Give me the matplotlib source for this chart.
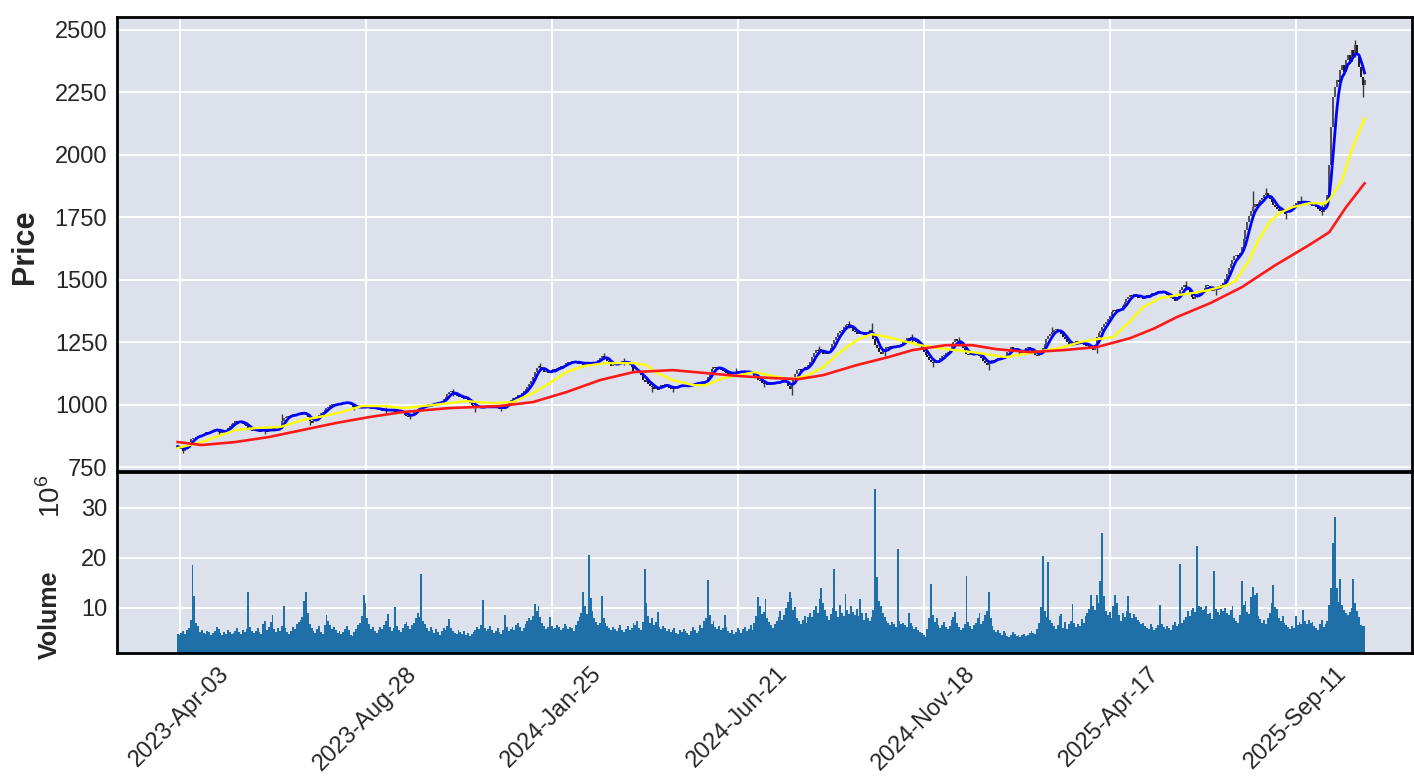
import numpy as np
import pandas as pd
import matplotlib
matplotlib.use('Agg')
import matplotlib.pyplot as plt

plt.rcParams['font.family'] = ['Liberation Sans', 'DejaVu Sans']
plt.rcParams['mathtext.fontset'] = 'custom'
plt.rcParams['mathtext.rm'] = 'Liberation Sans'

# x ticks (bar index -> date label)
tick_pos = [1, 101, 201, 301, 401, 501, 601]
tick_labels = ['2023-Apr-03', '2023-Aug-28', '2024-Jan-25', '2024-Jun-21',
               '2024-Nov-18', '2025-Apr-17', '2025-Sep-11']

# daily closes
close = [
    832, 828, 822, 816, 824, 838, 850, 862, 868, 866,
    872, 876, 880, 878, 884, 890, 886, 892, 896, 900,
    904, 898, 892, 888, 894, 890, 900, 908, 916, 922,
    928, 934, 930, 936, 928, 924, 920, 914, 906, 898,
    896, 902, 894, 898, 890, 900, 904, 896, 892, 900,
    898, 906, 894, 898, 902, 910, 935, 948, 952, 956,
    950, 958, 962, 958, 964, 968, 962, 970, 964, 958,
    950, 936, 928, 934, 942, 952, 960, 966, 972, 980,
    986, 992, 998, 1002, 996, 1004, 1000, 1008, 1004, 1010,
    1006, 1012, 1004, 998, 992, 988, 990, 986, 994, 988,
    992, 986, 994, 988, 984, 990, 982, 986, 978, 982,
    976, 980, 974, 978, 984, 976, 980, 972, 976, 970,
    974, 966, 960, 956, 950, 958, 962, 970, 978, 984,
    988, 992, 996, 990, 998, 1002, 996, 1004, 1008, 1002,
    1010, 1006, 1014, 1022, 1030, 1042, 1050, 1056, 1044, 1040,
    1034, 1030, 1036, 1028, 1024, 1028, 1016, 1008, 1000, 994,
    990, 986, 992, 986, 994, 988, 996, 990, 986, 994,
    990, 996, 988, 982, 990, 984, 992, 1004, 1014, 1020,
    1026, 1024, 1032, 1040, 1036, 1046, 1054, 1062, 1070, 1084,
    1096, 1112, 1130, 1148, 1156, 1150, 1138, 1130, 1134, 1126,
    1130, 1138, 1142, 1136, 1146, 1150, 1156, 1152, 1160, 1166,
    1172, 1168, 1174, 1168, 1172, 1164, 1170, 1166, 1160, 1168,
    1164, 1170, 1162, 1168, 1164, 1170, 1178, 1188, 1196, 1192,
    1184, 1174, 1166, 1156, 1160, 1166, 1160, 1170, 1166, 1174,
    1168, 1172, 1166, 1160, 1150, 1136, 1128, 1134, 1126, 1118,
    1100, 1092, 1098, 1084, 1076, 1070, 1062, 1068, 1060, 1072,
    1080, 1076, 1082, 1074, 1068, 1062, 1066, 1070, 1076, 1072,
    1080, 1078, 1072, 1076, 1070, 1078, 1084, 1080, 1088, 1084,
    1090, 1086, 1092, 1088, 1096, 1110, 1128, 1142, 1150, 1146,
    1152, 1144, 1140, 1136, 1132, 1126, 1122, 1128, 1124, 1130,
    1126, 1134, 1130, 1136, 1128, 1132, 1126, 1134, 1128, 1124,
    1116, 1108, 1100, 1094, 1088, 1082, 1086, 1080, 1084, 1090,
    1084, 1088, 1092, 1086, 1094, 1100, 1096, 1090, 1074, 1062,
    1080, 1104, 1124, 1138, 1142, 1136, 1144, 1150, 1146, 1158,
    1172, 1190, 1206, 1220, 1214, 1222, 1212, 1204, 1210, 1202,
    1214, 1228, 1244, 1260, 1272, 1286, 1294, 1300, 1310, 1318,
    1324, 1316, 1306, 1296, 1290, 1284, 1290, 1282, 1288, 1280,
    1286, 1290, 1300, 1284, 1262, 1240, 1226, 1212, 1204, 1214,
    1222, 1230, 1226, 1234, 1228, 1236, 1230, 1238, 1234, 1244,
    1252, 1260, 1268, 1262, 1270, 1262, 1256, 1250, 1244, 1236,
    1226, 1212, 1200, 1190, 1180, 1172, 1166, 1172, 1168, 1180,
    1188, 1194, 1200, 1206, 1212, 1220, 1236, 1250, 1262, 1256,
    1250, 1240, 1226, 1214, 1204, 1198, 1204, 1198, 1206, 1210,
    1202, 1196, 1186, 1176, 1166, 1160, 1168, 1174, 1180, 1176,
    1184, 1188, 1182, 1190, 1186, 1196, 1210, 1222, 1230, 1224,
    1218, 1212, 1216, 1208, 1214, 1220, 1226, 1230, 1222, 1216,
    1206, 1200, 1196, 1204, 1212, 1226, 1244, 1262, 1274, 1282,
    1290, 1298, 1304, 1296, 1290, 1282, 1272, 1262, 1250, 1240,
    1236, 1242, 1248, 1254, 1250, 1244, 1250, 1240, 1236, 1244,
    1232, 1226, 1218, 1240, 1270, 1288, 1296, 1310, 1322, 1330,
    1342, 1356, 1370, 1380, 1374, 1382, 1376, 1384, 1396, 1410,
    1424, 1432, 1440, 1436, 1442, 1434, 1428, 1436, 1430, 1424,
    1432, 1438, 1434, 1442, 1448, 1444, 1452, 1456, 1450, 1446,
    1452, 1444, 1440, 1432, 1428, 1422, 1416, 1424, 1440, 1458,
    1472, 1480, 1470, 1458, 1442, 1430, 1422, 1432, 1444, 1452,
    1448, 1456, 1468, 1480, 1474, 1462, 1456, 1462, 1470, 1476,
    1470, 1478, 1486, 1504, 1524, 1546, 1562, 1578, 1594, 1600,
    1592, 1606, 1632, 1664, 1700, 1730, 1754, 1776, 1790, 1802,
    1796, 1810, 1818, 1826, 1840, 1848, 1836, 1822, 1810, 1798,
    1790, 1782, 1776, 1784, 1772, 1764, 1770, 1778, 1786, 1792,
    1798, 1806, 1814, 1808, 1816, 1810, 1804, 1812, 1806, 1800,
    1794, 1802, 1792, 1784, 1776, 1770, 1790, 1806, 1840, 1960,
    2110, 2230, 2270, 2300, 2290, 2340, 2360, 2330, 2380, 2400,
    2370, 2420, 2390, 2440, 2400, 2350, 2310, 2280, 2300,
]

# daily volume, millions
volume = [
    4.8, 4.6, 5.0, 5.4, 4.9, 5.6, 6.0, 7.6, 18.6, 12.4,
    7.0, 6.5, 5.2, 5.6, 5.0, 4.8, 5.4, 5.2, 4.6, 5.0,
    5.5, 6.3, 5.8, 5.1, 4.7, 5.3, 4.9, 5.6, 5.2, 4.8,
    5.0, 5.4, 6.1, 5.3, 4.9, 5.7, 5.2, 5.8, 13.2, 6.2,
    5.5, 5.0, 5.4, 6.0, 5.2, 4.8, 6.8, 7.4, 5.6, 6.2,
    7.2, 8.6, 5.8, 5.2, 6.0, 5.4, 6.4, 10.4, 6.0, 5.2,
    4.8, 5.5, 6.2, 5.9, 6.8, 7.2, 7.6, 8.2, 11.5, 13.2,
    9.0, 6.8, 6.0, 5.4, 5.0, 5.8, 6.4, 5.2, 4.9, 6.6,
    8.6, 7.4, 6.6, 5.8, 6.2, 5.6, 5.0, 5.4, 4.8, 5.2,
    5.8, 6.4, 5.6, 4.7, 4.5, 5.2, 5.9, 6.6, 7.0, 8.4,
    12.6, 11.0, 8.0, 6.8, 5.8, 6.2, 5.4, 5.0, 5.6, 6.3,
    5.8, 6.6, 7.4, 8.8, 6.2, 5.4, 6.0, 10.2, 6.4, 5.6,
    5.2, 6.0, 6.8, 7.2, 6.4, 5.8, 6.6, 7.0, 8.0, 9.0,
    8.2, 16.8, 7.4, 6.8, 6.0, 5.4, 6.2, 5.6, 5.0, 5.8,
    5.2, 4.6, 5.4, 6.0, 5.6, 6.4, 7.8, 6.0, 5.4, 5.0,
    4.8, 5.6, 5.2, 4.9, 5.4, 4.6, 5.0, 4.4, 4.8, 5.2,
    5.6, 6.2, 5.8, 6.6, 11.6, 6.0, 5.4, 5.8, 6.4, 5.6,
    5.0, 5.4, 6.0, 5.2, 4.8, 5.6, 8.6, 6.2, 5.4, 5.8,
    6.2, 5.6, 6.6, 7.0, 6.2, 5.4, 6.0, 6.8, 7.4, 8.0,
    7.6, 8.4, 10.8, 9.5, 10.5, 8.2, 7.0, 6.4, 5.8, 6.2,
    8.2, 6.4, 5.8, 6.0, 6.6, 6.2, 5.6, 6.0, 6.8, 6.4,
    5.8, 6.2, 6.0, 5.4, 6.6, 7.4, 8.2, 9.0, 13.2, 10.4,
    8.8, 20.6, 12.0, 9.5, 8.0, 7.2, 6.6, 7.0, 12.4, 8.0,
    7.0, 6.4, 6.0, 5.6, 6.2, 5.8, 5.4, 6.0, 6.6, 5.6,
    5.2, 5.8, 6.4, 5.6, 6.0, 7.0, 6.6, 7.4, 6.0, 5.6,
    7.2, 17.8, 11.0, 8.4, 7.0, 8.0, 6.6, 7.2, 9.2, 6.2,
    5.8, 6.4, 6.0, 5.4, 5.8, 5.2, 5.6, 6.0, 5.0, 4.8,
    5.6, 5.2, 5.8, 5.4, 5.0, 4.6, 5.4, 6.2, 5.6, 5.0,
    5.4, 6.6, 6.0, 7.4, 8.0, 15.6, 8.6, 6.8, 7.4, 6.2,
    5.8, 6.4, 5.6, 6.0, 8.6, 6.2, 5.4, 5.0, 5.6, 4.8,
    5.2, 6.0, 5.6, 5.0, 5.8, 6.2, 5.4, 5.8, 6.6, 5.6,
    7.0, 8.4, 12.2, 10.4, 8.8, 9.2, 11.8, 8.0, 7.2, 6.6,
    6.0, 6.8, 7.4, 8.2, 9.4, 7.6, 8.6, 10.0, 11.2, 13.2,
    12.0, 9.6, 10.2, 8.0, 7.4, 6.8, 7.6, 8.4, 7.0, 8.2,
    9.0, 8.2, 9.6, 10.4, 9.0, 11.8, 14.0, 11.0, 9.6, 8.4,
    7.6, 8.8, 10.0, 17.8, 9.4, 8.2, 10.6, 9.0, 8.4, 12.8,
    9.6, 8.8, 10.4, 9.2, 8.6, 9.8, 8.4, 11.8, 9.0, 7.6,
    9.0, 8.0, 7.4, 8.2, 9.6, 33.8, 16.2, 11.4, 10.5, 9.0,
    8.2, 7.4, 7.0, 6.6, 7.2, 6.8, 6.2, 21.8, 7.4, 6.8,
    7.0, 6.6, 6.2, 9.0, 7.0, 6.4, 5.8, 6.2, 5.6, 5.2,
    5.0, 4.6, 4.2, 5.8, 8.0, 14.8, 8.6, 7.2, 8.0, 6.6,
    6.0, 6.6, 7.2, 6.2, 5.8, 6.4, 7.6, 8.2, 9.2, 7.0,
    6.2, 5.6, 6.0, 6.8, 16.4, 7.2, 6.4, 5.8, 6.6, 7.0,
    8.0, 9.0, 6.8, 7.4, 8.6, 9.4, 13.2, 8.0, 6.4, 5.6,
    5.2, 5.6, 5.0, 4.6, 5.4, 5.0, 4.4, 4.2, 4.6, 5.2,
    4.8, 4.4, 4.6, 4.2, 4.6, 4.8, 4.4, 4.6, 5.0, 5.4,
    5.0, 4.8, 5.8, 7.0, 10.2, 20.4, 9.5, 8.2, 19.2, 7.6,
    7.0, 6.4, 5.8, 6.6, 8.4, 8.8, 6.0, 7.2, 5.8, 6.8,
    7.4, 10.8, 7.0, 6.2, 6.8, 6.4, 7.8, 7.0, 8.4, 9.0,
    9.8, 12.6, 10.4, 9.6, 12.6, 11.0, 15.4, 25.0, 12.4, 9.4,
    8.6, 9.2, 8.0, 10.4, 12.6, 11.0, 8.6, 7.4, 9.0, 8.2,
    9.4, 12.4, 9.0, 8.0, 8.8, 8.2, 7.6, 7.2, 6.8, 7.0,
    6.4, 6.0, 5.8, 6.8, 6.2, 5.6, 6.0, 6.6, 10.6, 6.8,
    6.2, 5.8, 6.4, 6.0, 5.6, 6.6, 7.2, 6.4, 6.8, 18.8,
    7.0, 7.6, 8.2, 9.5, 8.4, 9.6, 10.0, 9.2, 22.4, 10.4,
    10.2, 9.6, 9.8, 10.5, 8.8, 9.0, 7.8, 17.4, 9.8, 9.2,
    8.6, 9.8, 9.4, 10.0, 9.0, 8.6, 9.6, 10.5, 8.0, 7.4,
    7.0, 8.6, 15.4, 10.6, 11.4, 9.2, 8.8, 12.2, 14.2, 12.6,
    13.0, 8.4, 7.8, 7.0, 7.6, 6.8, 8.0, 9.0, 11.0, 14.6,
    10.2, 9.8, 8.0, 7.4, 8.4, 7.0, 6.6, 6.2, 5.8, 6.4,
    6.0, 8.4, 6.6, 7.2, 6.8, 9.6, 7.4, 6.8, 7.6, 7.0,
    7.2, 6.4, 6.0, 5.6, 6.8, 7.6, 6.2, 6.8, 7.4, 10.6,
    14.0, 23.0, 28.2, 14.0, 11.2, 15.8, 10.6, 9.6, 9.0, 8.6,
    9.2, 10.0, 15.8, 11.0, 9.4, 8.2, 6.6, 6.5, 6.4,
]

# long wicks that stand out from the candle band
wick_idx = [3, 22, 47, 56, 71, 95, 112, 125, 148, 160, 174, 195, 229, 240,
            255, 266, 300, 315, 330, 345, 361, 373, 380, 395, 406, 420, 436,
            452, 470, 494, 508, 542, 558, 578, 585, 596, 604, 615, 633, 637]
wick_lo = [808, 878, 884, 905, 920, 978, 962, 944, 1036, 972, 975, 1138,
           1182, 1158, 1050, 1052, 1118, 1070, 1038, 1204, 1306, 1280, 1195,
           1252, 1150, 1238, 1140, 1198, 1280, 1205, 1380, 1460, 1440, 1750,
           1830, 1745, 1800, 1760, 2390, 2230]
wick_hi = [830, 900, 906, 962, 952, 998, 990, 962, 1062, 995, 998, 1168,
           1208, 1186, 1080, 1074, 1146, 1092, 1090, 1234, 1336, 1326, 1222,
           1282, 1176, 1270, 1180, 1222, 1312, 1240, 1404, 1495, 1472, 1856,
           1868, 1782, 1836, 1800, 2458, 2310]

# slower moving averages
yellow_idx = [0, 13, 31, 42, 55, 67, 76, 88, 99, 112, 121, 137, 155, 169, 180,
              191, 200, 209, 218, 230, 245, 252, 257, 266, 277, 284, 293, 302,
              310, 320, 329, 338, 347, 356, 365, 373, 382, 388, 399, 413, 427,
              445, 458, 476, 485, 494, 503, 512, 519, 528, 537, 545, 554, 564,
              569, 576, 581, 587, 592, 599, 608, 617, 620, 626, 631, 638]
yellow_val = [826, 850, 898, 906, 910, 938, 950, 970, 994, 994, 986, 998, 1014,
              1006, 1010, 1046, 1086, 1130, 1154, 1166, 1166, 1158, 1130, 1098,
              1078, 1078, 1106, 1118, 1130, 1114, 1102, 1114, 1150, 1210, 1258,
              1282, 1270, 1258, 1238, 1222, 1210, 1190, 1206, 1230, 1250, 1262,
              1270, 1334, 1390, 1426, 1438, 1446, 1458, 1478, 1498, 1578, 1658,
              1730, 1766, 1790, 1806, 1806, 1830, 1898, 2018, 2146]

red_idx = [0, 13, 31, 49, 67, 85, 103, 121, 146, 173, 191, 209, 227, 245, 266,
           284, 302, 320, 334, 347, 365, 382, 395, 413, 427, 440, 458, 476, 494,
           512, 525, 537, 555, 572, 590, 608, 619, 628, 638]
red_val = [850, 838, 850, 870, 898, 926, 950, 970, 986, 994, 1010, 1050, 1098,
           1130, 1138, 1126, 1114, 1106, 1102, 1118, 1158, 1190, 1218, 1238,
           1238, 1222, 1210, 1218, 1230, 1266, 1305, 1350, 1406, 1470, 1558,
           1638, 1690, 1790, 1886]

bg = '#dce1ec'

fig = plt.figure(figsize=(14.14, 7.83), dpi=100)
ax = fig.add_axes([117 / 1414, 1 - 471 / 783, 1295 / 1414, 454 / 783])
axv = fig.add_axes([117 / 1414, 1 - 653 / 783, 1295 / 1414, 181 / 783], sharex=ax)

for a in (ax, axv):
    a.set_facecolor(bg)
    a.grid(True, color='white', lw=1.3)
    a.set_axisbelow(True)
    for s in a.spines.values():
        s.set_color('black')
        s.set_linewidth(2)
    a.tick_params(length=0, labelsize=17, labelcolor='#262626', pad=7)

x = np.arange(len(close))
c = np.array(close, dtype=float)
o = np.r_[c[0], c[:-1]]
up = c >= o
ax.vlines(wick_idx, wick_lo, wick_hi, color='#3a3a3a', lw=1.0)
ax.vlines(x[up], o[up], c[up], color='#505050', lw=1.4)
ax.vlines(x[~up], c[~up], o[~up], color='#1a1a1a', lw=1.4)

blue = pd.Series(close).rolling(5, min_periods=1).mean()
ax.plot(x, blue, color='#0000ff', lw=2.0)
ax.plot(yellow_idx, yellow_val, color='#ffff00', lw=1.7)
ax.plot(red_idx, red_val, color='#ff1a1a', lw=1.9)

ax.set_ylim(734, 2552)
ax.set_yticks([750, 1000, 1250, 1500, 1750, 2000, 2250, 2500])
ax.set_xlim(-32.6, 663.5)
ax.tick_params(labelbottom=False)

axv.bar(np.arange(len(volume)), volume, width=1.0, color='#1f6fa8', lw=0)
axv.set_ylim(1.0, 37.2)
axv.set_yticks([10, 20, 30])
axv.set_xticks(tick_pos)
axv.set_xticklabels(tick_labels, rotation=45)

fig.text(25 / 1414, 1 - 247 / 783, 'Price', rotation=90, ha='center',
         va='center', fontsize=22, fontweight='bold', color='#262626')
fig.text(50 / 1414, 1 - 615 / 783, 'Volume', rotation=90, ha='center',
         va='center', fontsize=18, fontweight='bold', color='#262626')
fig.text(52 / 1414, 1 - 496 / 783, '$10^{6}$', rotation=90, ha='center',
         va='center', fontsize=20, color='#262626')

fig.savefig('out.png', dpi=100)
